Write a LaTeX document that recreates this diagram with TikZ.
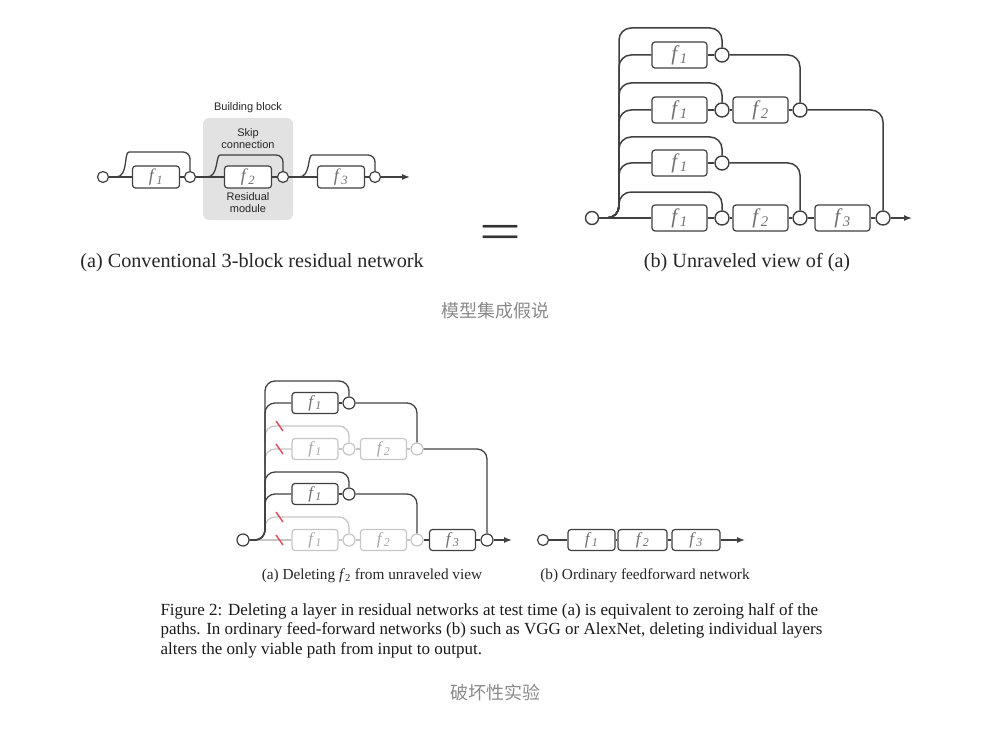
\documentclass[tikz,border=0pt]{standalone}
\usepackage{fontspec}
\setmainfont{Liberation Serif}
\setsansfont{Liberation Sans}
\newfontfamily\cjk{Noto Sans CJK SC}
\usetikzlibrary{arrows.meta}

\definecolor{wirec}{HTML}{404040}
\definecolor{deadc}{HTML}{C6C6C6}
\definecolor{cutc}{HTML}{E0505F}
\definecolor{blockbg}{HTML}{E2E2E2}
\definecolor{notec}{HTML}{8A8A8A}

\newcommand{\fl}[1]{\textit{f}\kern.3pt\textsubscript{\textit{#1}}}

\tikzset{
  wire/.style={draw=wirec, line width=1.3pt, rounded corners=10pt},
  dead/.style={draw=deadc, line width=1.3pt, rounded corners=10pt},
  fbox/.style={draw=wirec, line width=1.2pt, rounded corners=3pt, fill=white,
    inner sep=0pt, minimum width=47pt, minimum height=22pt,
    text=wirec!75!white, font=\fontsize{18}{18}\selectfont},
  junc/.style={circle, draw=wirec, line width=1.2pt, fill=white,
    inner sep=0pt, minimum size=11pt},
  deadbox/.style={fbox, draw=deadc, text=deadc!85!black},
  deadjunc/.style={junc, draw=deadc},
  cutmark/.style={draw=cutc, line width=1.5pt},
  sflabel/.style={font=\sffamily\fontsize{11}{12}\selectfont, text=black!85, align=center},
  captext/.style={font=\fontsize{20.2}{20}\selectfont, text=black!85},
  subcap/.style={font=\fontsize{15.3}{15}\selectfont, text=black!85},
  note/.style={font=\cjk\fontsize{18}{18}\selectfont, text=notec},
  arr/.style={-{Latex[length=8pt,width=6pt]}},
}

\begin{document}
\begin{tikzpicture}[x=1pt,y=-1pt]
\useasboundingbox (0,0) rectangle (984,730);

% (a) conventional residual network
\node[fill=blockbg, rounded corners=6pt, minimum width=90pt, minimum height=102pt] (blk) at (248,169) {};
\node[sflabel] (bbl) at (248,108) {Building block};
\node[sflabel] (skl) at (248,139) {Skip\\connection};
\node[sflabel] (rml) at (248,203) {Residual\\module};

\node[junc] (inA) at (103,177) {};
\node[fbox] (a1) at (156,177) {\fl1};
\node[junc] (ca1) at (190,177) {};
\node[fbox] (a2) at (248,177) {\fl2};
\node[junc] (ca2) at (283,177) {};
\node[fbox] (a3) at (341,177) {\fl3};
\node[junc] (ca3) at (375,177) {};
\coordinate (outA) at (410,177);

\draw[wire] (inA) -- (a1) -- (ca1) -- (a2) -- (ca2) -- (a3) -- (ca3);
\draw[wire,arr] (ca3) -- (outA);
\draw[wire, rounded corners=7pt] ([xshift=7]inA.east) to[out=0,in=180] ++(20,-25) -| (ca1.north);
\draw[wire, rounded corners=7pt] ([xshift=11]ca1.east) to[out=0,in=180] ++(20,-22) -| (ca2.north);
\draw[wire, rounded corners=7pt] ([xshift=10]ca2.east) to[out=0,in=180] ++(20,-22) -| (ca3.north);

\node[captext] (capA) at (252,263) {(a) Conventional 3-block residual network};
\node[font=\fontsize{62}{62}\selectfont, text=black!80] (eq) at (500,237) {\scalebox{1.2}[0.85]{=}};

% (b) unraveled view
\begin{scope}[fbox/.append style={minimum width=55pt, minimum height=26pt, font=\fontsize{21}{21}\selectfont},
              junc/.append style={minimum size=14pt, line width=1.4pt}]
\node[junc, minimum size=13pt] (inB) at (592,218) {};
\coordinate (trB) at (619,218);
\node[fbox] (b11) at (679.5,55) {\fl1};
\node[junc] (cb11) at (722,55) {};
\node[fbox] (b21) at (679.5,110) {\fl1};
\node[junc] (cb21) at (722,110) {};
\node[fbox] (b22) at (760.5,110) {\fl2};
\node[junc] (cb22) at (800,110) {};
\node[fbox] (b31) at (679.5,163) {\fl1};
\node[junc] (cb31) at (722,163) {};
\node[fbox] (b41) at (679.5,218) {\fl1};
\node[junc] (cb41) at (722,218) {};
\node[fbox] (b42) at (760.5,218) {\fl2};
\node[junc] (cb42) at (800,218) {};
\node[fbox] (b43) at (842.5,218) {\fl3};
\node[junc] (cb43) at (883,218) {};
\coordinate (outB) at (912,218);
\end{scope}

\begin{scope}[wire/.append style={line width=1.5pt, rounded corners=12pt}]
\draw[wire] (inB.east) -| (619,28) -| (cb11.north);
\draw[wire] (inB.east) -| (trB |- b11) -- (b11);
\draw[wire] (inB.east) -| (619,83) -| (cb21.north);
\draw[wire] (inB.east) -| (trB |- b21) -- (b21);
\draw[wire] (inB.east) -| (619,137) -| (cb31.north);
\draw[wire] (inB.east) -| (trB |- b31) -- (b31);
\draw[wire] (inB.east) -| (619,192) -| (cb41.north);
\draw[wire] (inB) -- (b41);
\draw[wire] (b11) -- (cb11);
\draw[wire] (b21) -- (cb21) -- (b22) -- (cb22);
\draw[wire] (b31) -- (cb31);
\draw[wire] (b41) -- (cb41) -- (b42) -- (cb42) -- (b43) -- (cb43);
\draw[wire,arr] (cb43) -- (outB);
\draw[wire] (cb11.east) -| (cb22.north);
\draw[wire] (cb22.east) -| (cb43.north);
\draw[wire] (cb31.east) -| (cb42.north);
\end{scope}

\node[captext] (capB) at (747,263) {(b) Unraveled view of (a)};
\node[note] (n1) at (495,311) {模型集成假说};

% (a) deleting f2
\begin{scope}[fbox/.append style={minimum width=46pt, minimum height=21pt, font=\fontsize{17}{17}\selectfont},
              junc/.append style={minimum size=12pt}]
\node[junc] (inC) at (243,540) {};
\coordinate (trC) at (265,540);
\node[fbox] (c11) at (315,403) {\fl1};
\node[junc] (cc11) at (349,403) {};
\node[deadbox] (c21) at (315,449) {\fl1};
\node[deadjunc] (cc21) at (349,449) {};
\node[deadbox] (c22) at (383.5,449) {\fl2};
\node[deadjunc] (cc22) at (417,449) {};
\node[fbox] (c31) at (315,494) {\fl1};
\node[junc] (cc31) at (349,494) {};
\node[deadbox] (c41) at (315,540) {\fl1};
\node[deadjunc] (cc41) at (349,540) {};
\node[deadbox] (c42) at (383.5,540) {\fl2};
\node[deadjunc] (cc42) at (417,540) {};
\node[fbox] (c43) at (452.5,540) {\fl3};
\node[junc] (cc43) at (487,540) {};
\coordinate (outC) at (512,540);
\end{scope}

\draw[dead] (265,442) |- (300,426) -| (cc21.north);
\draw[dead] (265,465) |- (c21);
\draw[dead] (265,532) |- (300,517) -| (cc41.north);
\draw[dead] (inC) -- (c41);
\draw[dead] (c21) -- (cc21) -- (c22) -- (cc22);
\draw[dead] (c41) -- (cc41) -- (c42) -- (cc42);
\draw[wire] (inC.east) -| (265,381) -| (cc11.north);
\draw[wire] (inC.east) -| (trC |- c11) -- (c11);
\draw[wire] (inC.east) -| (265,472) -| (cc31.north);
\draw[wire] (inC.east) -| (trC |- c31) -- (c31);
\draw[wire] (c11) -- (cc11);
\draw[wire] (c31) -- (cc31);
\draw[wire] (cc42) -- (c43) -- (cc43);
\draw[wire,arr] (cc43) -- (outC);
\draw[wire] (cc11.east) -| (cc22.north);
\draw[wire] (cc22.east) -| (cc43.north);
\draw[wire] (cc31.east) -| (cc42.north);
\draw[cutmark] (276,421) -- (283,431);
\draw[cutmark] (276,444) -- (283,454);
\draw[cutmark] (276,512) -- (283,522);
\draw[cutmark] (276,535) -- (283,545);

\node[subcap] (capC) at (372,576) {(a) Deleting \textit{f}\textsubscript{2} from unraveled view};

% (b) ordinary feedforward
\begin{scope}[fbox/.append style={minimum height=21pt, font=\fontsize{17}{17}\selectfont}]
\node[junc] (inD) at (543,540) {};
\node[fbox, minimum width=47pt] (d1) at (591.5,540) {\fl1};
\node[fbox, minimum width=49pt] (d2) at (642.5,540) {\fl2};
\node[fbox, minimum width=48pt] (d3) at (696,540) {\fl3};
\coordinate (outD) at (745,540);
\end{scope}
\draw[wire] (inD) -- (d1) -- (d2) -- (d3);
\draw[wire,arr] (d3) -- (outD);

\node[subcap] (capD) at (645,576) {(b) Ordinary feedforward network};

\node[anchor=north west, align=left, font=\fontsize{17}{19.3}\selectfont, text=black!90] (fig) at (157,600)
  {Figure 2: Deleting a layer in residual networks at test time (a) is equivalent to zeroing half of the\\
   paths. In ordinary feed-forward networks (b) such as VGG or AlexNet, deleting individual layers\\
   alters the only viable path from input to output.};
\node[note] (n2) at (495,693) {破坏性实验};
\end{tikzpicture}
\end{document}
